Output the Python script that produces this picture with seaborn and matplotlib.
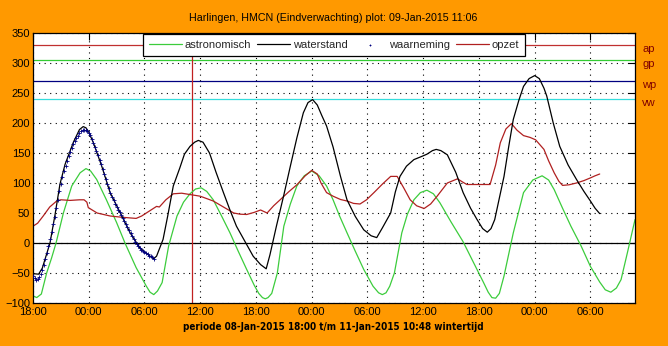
import numpy as np
import pandas as pd
import matplotlib
matplotlib.use("Agg")
import matplotlib.pyplot as plt
import seaborn as sns

# Time axis: hours since 08-Jan-2015 18:00, values in cm
astro_t = [0, 0.4, 0.9, 1.47, 2.0, 2.48, 3.27, 4.17, 5.07, 5.7, 6.2, 6.85, 7.9, 9.0, 9.9,
           11.1, 12.2, 12.6, 13.0, 13.4, 13.9, 14.6, 15.5, 16.2, 16.9, 17.5, 18.1, 18.7,
           19.4, 20.3, 21.2, 22.1, 23.0, 23.8, 24.3, 24.7, 25.0, 25.3, 25.7, 26.3, 27.0,
           27.7, 28.4, 29.2, 30.0, 30.8, 31.6, 32.3, 33.0, 33.8, 34.7, 35.6, 36.6, 37.2,
           37.6, 38.0, 38.4, 38.9, 39.7, 40.3, 41.0, 41.7, 42.4, 43.1, 43.8, 45.0, 46.3,
           47.4, 48.5, 49.0, 49.4, 49.8, 50.2, 50.7, 51.7, 52.8, 53.8, 54.8, 55.5, 56.1,
           57.0, 57.9, 59.0, 60.0, 61.0, 61.6, 62.2, 62.8, 63.3, 64.0, 64.8]
astro_v = [-88, -91, -85, -50, -25, 0, 50, 95, 117, 124, 120, 106, 72, 34, 0,
           -41, -72, -82, -86, -80, -66, -5, 45, 68, 82, 90, 92, 86,
           72, 45, 17, -14, -44, -70, -84, -91, -93, -91, -84, -50, 28,
           65, 95, 112, 120, 112, 95, 72, 45, 17, -14, -44, -72, -83,
           -86, -83, -72, -50, 17, 48, 72, 84, 88, 82, 67, 35, 2,
           -32, -66, -82, -91, -92, -84, -55, 17, 84, 105, 112, 105, 89,
           58, 28, -5, -39, -65, -78, -82, -75, -61, -15, 39]

water_t = [0, 0.6, 1.0, 1.83, 2.37, 2.9, 3.45, 4.35, 5.0, 5.4, 5.7, 6.0, 6.5, 7.4, 8.3,
           9.4, 10.45, 11.5, 12.6, 13.0, 13.3, 14.0, 14.5, 15.1, 15.8, 16.3, 16.9, 17.4,
           17.8, 18.3, 19.0, 19.7, 20.5, 21.2, 21.9, 22.8, 23.7, 24.5, 25.1, 25.5, 26.2,
           27.0, 27.7, 28.4, 29.1, 29.6, 30.1, 30.6, 31.1, 31.6, 32.3, 33.1, 33.8, 34.7,
           35.6, 36.4, 37.0, 37.6, 38.5, 39.0, 39.5, 40.2, 41.0, 41.8, 42.4, 43.0, 43.4,
           43.9, 44.6, 45.5, 46.3, 47.1, 47.8, 48.4, 48.9, 49.3, 49.7, 50.2, 50.7, 51.2,
           51.7, 52.3, 52.8, 53.4, 54.0, 54.5, 55.0, 55.3, 56.0, 56.7, 57.6, 58.5, 59.3,
           60.0, 60.5, 61.0]
water_v = [-51, -52, -42, 0, 47, 98, 131, 168, 189, 194, 192, 185, 167, 128, 84,
           50, 17, -8, -22, -26, -22, 6, 45, 95, 125, 148, 161, 168,
           171, 168, 150, 118, 84, 55, 28, 3, -22, -36, -43, -20, 28,
           80, 128, 175, 217, 234, 239, 230, 212, 195, 160, 111, 72, 44,
           22, 12, 9, 25, 50, 85, 111, 128, 139, 144, 148, 154, 156,
           154, 147, 118, 84, 58, 39, 24, 18, 24, 39, 75, 111, 160,
           206, 238, 261, 274, 279, 274, 258, 245, 200, 161, 130, 106, 86,
           70, 58, 49]

# 10-minute observations from 18:00 onwards
obs_v = [-55, -59, -61, -60, -57, -52, -45, -36, -26, -16, -5, 6, 18, 31, 44, 58, 72, 86,
         99, 110, 120, 129, 137, 145, 152, 159, 165, 170, 175, 179, 183, 186, 188, 189,
         189, 187, 184, 180, 174, 167, 160, 153, 146, 139, 131, 123, 115, 107, 99, 91,
         83, 77, 71, 65, 60, 55, 51, 47, 42, 37, 32, 27, 21, 16, 11, 6, 2, -2, -5, -8,
         -11, -13, -15, -17, -19, -21, -22, -24, -26]
obs_step_h = 10 / 60

surge_t = [0, 0.5, 1.1, 1.8, 2.55, 3.0, 4.0, 5.0, 5.5, 5.8, 5.95, 6.9, 8.3, 9.5, 11.1, 11.7,
           12.2, 12.8, 13.3, 13.6, 14.3, 15.1, 16.0, 16.8, 18.0, 19.4, 20.5, 21.6, 22.3,
           23.0, 23.8, 24.5, 25.2, 25.9, 26.6, 27.5, 28.4, 29.3, 30.0, 30.6, 31.0, 31.6,
           32.3, 33.1, 33.8, 34.5, 35.2, 35.9, 36.7, 37.6, 38.5, 39.2, 39.9, 40.6, 41.3,
           42.1, 42.8, 43.5, 44.6, 45.7, 46.2, 46.7, 48.5, 49.2, 49.8, 50.3, 50.9, 51.5,
           52.1, 52.8, 53.5, 54.1, 55.0, 55.5, 56.1, 56.6, 57.0, 57.7, 58.5, 59.3, 60.0,
           60.5, 61.0]
surge_v = [28, 33, 45, 60, 70, 72, 71, 72, 72, 68, 59, 50, 45, 43, 41, 45,
           50, 56, 61, 60, 72, 82, 83, 81, 78, 70, 60, 50, 48,
           47.5, 51, 55, 50, 62, 72, 85, 97, 112, 121, 115, 100, 84,
           78, 72.5, 70, 66, 65, 72, 84, 98, 111, 111, 92, 72, 62,
           57.5, 65, 78, 100, 107, 102, 97.5, 97.5, 97.5, 130, 167, 190, 199,
           188, 179, 176, 172, 156, 137, 117, 103, 96, 97, 100, 104, 108.5,
           112, 115]

# Warning levels drawn as horizontal lines
level_names = ["ap", "gp", "wp", "vw"]
level_values = [330, 305, 270, 240]
level_colors = ["#c03030", "#33cc33", "#000080", "#33dddd"]

plot_time_h = 17.1  # 09-Jan-2015 11:06
x_end_h = 64.8      # 11-Jan-2015 10:48
x_tick_labels = ["18:00", "00:00", "06:00", "12:00", "18:00", "00:00",
                 "06:00", "12:00", "18:00", "00:00", "06:00"]
y_ticks = list(range(-100, 351, 50))

sns.set_style("white")
plt.rcParams["font.family"] = ["Liberation Sans", "DejaVu Sans"]

orange = "#ff9900"
fig = plt.figure(figsize=(6.68, 3.46), dpi=100, facecolor=orange)
ax = fig.add_axes([33 / 668, 43 / 346, 602 / 668, 270 / 346])
ax.set_facecolor("white")

# dotted grid at every tick
dots = (0, (1, 4))
for xt in range(0, 61, 6):
    ax.axvline(xt, color="black", lw=0.8, ls=dots, zorder=0.5)
for yt in y_ticks:
    ax.axhline(yt, color="black", lw=0.8, ls=dots, zorder=0.5)

ax.axhline(0, color="black", lw=0.9, zorder=1)
for val, col in zip(level_values, level_colors):
    ax.axhline(val, color=col, lw=0.9, zorder=1)
ax.axvline(plot_time_h, color="#c02020", lw=0.9, zorder=1)

astro = pd.DataFrame({"t": astro_t, "v": astro_v})
water = pd.DataFrame({"t": water_t, "v": water_v})
surge = pd.DataFrame({"t": surge_t, "v": surge_v})
obs = pd.DataFrame({"t": np.arange(len(obs_v)) * obs_step_h, "v": obs_v})

sns.lineplot(data=astro, x="t", y="v", ax=ax, color="#3ccc3c", lw=0.9,
             sort=False, estimator=None, label="astronomisch", zorder=2)
sns.lineplot(data=water, x="t", y="v", ax=ax, color="black", lw=0.9,
             sort=False, estimator=None, label="waterstand", zorder=3)
sns.scatterplot(data=obs, x="t", y="v", ax=ax, color="#000080", marker="+",
                s=6, linewidth=0.6, label="waarneming", zorder=4)
sns.lineplot(data=surge, x="t", y="v", ax=ax, color="#b02020", lw=0.9,
             sort=False, estimator=None, label="opzet", zorder=2)

ax.set_xlim(0, x_end_h)
ax.set_ylim(-100, 350)
ax.set_xticks(range(0, 61, 6))
ax.set_xticklabels(x_tick_labels)
ax.set_yticks(y_ticks)
ax.tick_params(direction="in", length=5, width=0.8, top=True, right=True,
               labelsize=8, pad=2, colors="black")
ax.tick_params(axis="x", pad=3)
for sp in ax.spines.values():
    sp.set_color("black")
    sp.set_linewidth(0.9)
ax.set_xlabel("")
ax.set_ylabel("")

for name, val in zip(level_names, level_values):
    ax.text(1.012, val - 6, name, transform=ax.get_yaxis_transform(),
            fontsize=8, color="#800000", va="center", ha="left")

leg = ax.legend(loc="upper center", ncol=4, frameon=True, fancybox=False,
                edgecolor="black", framealpha=1, fontsize=8, borderaxespad=0.05,
                handlelength=3.0, handletextpad=0.2, columnspacing=0.55,
                borderpad=0.55, markerscale=0.5)
leg.get_frame().set_linewidth(0.9)

fig.text(333 / 668, 1 - 18 / 346, "Harlingen, HMCN (Eindverwachting) plot: 09-Jan-2015 11:06",
         ha="center", va="center", fontsize=7.7, color="black")
fig.text(333 / 668, 1 - 327 / 346,
         "periode 08-Jan-2015 18:00 t/m 11-Jan-2015 10:48 wintertijd",
         ha="center", va="center", fontsize=7.1, fontweight="bold",
         fontstretch="condensed", family="DejaVu Sans", color="black")

fig.savefig("out.png", dpi=100, facecolor=orange)
